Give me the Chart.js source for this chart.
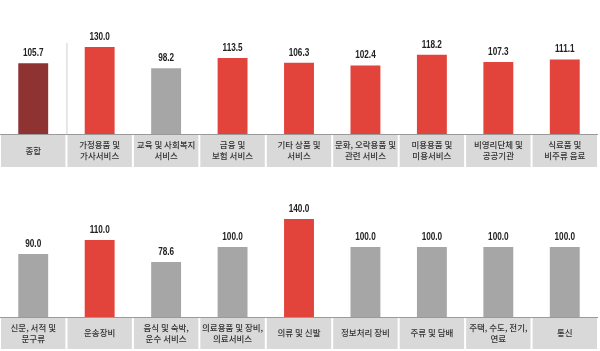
<!DOCTYPE html>
<html><head><meta charset="utf-8">
<script src="https://cdn.jsdelivr.net/npm/chart.js@4/dist/chart.umd.min.js"></script>
<style>
html,body{margin:0;padding:0;background:#fff;}
#w{width:600px;height:351px;position:relative;}
.c{position:absolute;left:0;width:600px;}
</style></head><body>
<div id="w">
<div class="c" style="top:0;height:175px"><canvas id="c1"></canvas></div>
<div class="c" style="top:175px;height:176px"><canvas id="c2"></canvas></div>
</div>
<script>
const topCategories = [['종합'],['가정용품 및','가사서비스'],['교육 및 사회복지','서비스'],['금융 및','보험 서비스'],['기타 상품 및','서비스'],['문화, 오락용품 및','관련 서비스'],['미용용품 및','미용서비스'],['비영리단체 및','공공기관'],['식료품 및','비주류 음료']];
const topValues = [105.7,130.0,98.2,113.5,106.3,102.4,118.2,107.3,111.1];
const bottomCategories = [['신문, 서적 및','문구류'],['운송장비'],['음식 및 숙박,','운수 서비스'],['의료용품 및 장비,','의료서비스'],['의류 및 신발'],['정보처리 장비'],['주류 및 담배'],['주택, 수도, 전기,','연료'],['통신']];
const bottomValues = [90.0,110.0,78.6,100.0,140.0,100.0,100.0,100.0,100.0];

const RED='#e2433a', DARK='#8e3232', GRAY='#a6a6a6';
const KFONT='"Noto Sans CJK KR","Noto Sans",sans-serif';

const deco = {
  id:'deco',
  beforeDatasetsDraw(chart, args, opts){
    const ctx=chart.ctx, xs=chart.scales.x, ca=chart.chartArea;
    const n=chart.data.labels.length;
    const w=(xs.right-xs.left)/n;
    ctx.save();
    ctx.fillStyle='#d9d9d9';
    for(let i=0;i<n;i++){
      const l=xs.left+i*w;
      ctx.fillRect(l+1, ca.bottom, w-2, opts.boxH);
    }
    ctx.fillStyle='#9a9a9a';
    ctx.fillRect(xs.left, ca.bottom, xs.right-xs.left, 1);
    if(opts.sep){
      ctx.fillStyle='#d0d0d0';
      ctx.fillRect(xs.left+w, ca.bottom-91, 1, 91);
    }
    ctx.fillStyle='#333';
    ctx.font='500 8.5px '+KFONT;
    ctx.textAlign='center';ctx.textBaseline='middle';
    const mid=ca.bottom+opts.boxH/2;
    chart.data.labels.forEach((lab,i)=>{
      const cx=xs.getPixelForValue(i);
      const lh=11;
      const y0=mid-(lab.length-1)*lh/2;
      lab.forEach((t,j)=>ctx.fillText(t,cx,y0+j*lh));
    });
    ctx.restore();
  },
  afterDatasetsDraw(chart){
    const ctx=chart.ctx, meta=chart.getDatasetMeta(0);
    const data=chart.data.datasets[0].data;
    ctx.save();
    ctx.fillStyle='#222';
    ctx.font='bold 10px "Liberation Sans",Arial,sans-serif';
    ctx.textAlign='center';ctx.textBaseline='middle';
    meta.data.forEach((bar,i)=>{
      ctx.save();
      ctx.translate(bar.x, bar.y-10);
      ctx.scale(0.82,1);
      ctx.fillText(data[i].toFixed(1),0,0);
      ctx.restore();
    });
    ctx.restore();
  }
};

function make(id, cats, vals, max, boxH, bottomPad, sep, firstDark){
  const colors=vals.map((v,i)=> (firstDark&&i===0)?DARK:(v>100?RED:GRAY));
  return new Chart(document.getElementById(id),{
    type:'bar',
    data:{labels:cats,datasets:[{data:vals,backgroundColor:colors,borderWidth:0,categoryPercentage:1,barPercentage:0.45}]},
    options:{
      responsive:true,maintainAspectRatio:false,animation:false,
      layout:{padding:{left:0,right:2,top:0,bottom:bottomPad}},
      plugins:{legend:{display:false},tooltip:{enabled:false},deco:{boxH:boxH,sep:sep}},
      scales:{
        x:{display:false},
        y:{display:false,min:0,max:max}
      }
    },
    plugins:[deco]
  });
}
make('c1', topCategories, topValues, 200, 33, 41, true, true);
make('c2', bottomCategories, bottomValues, 203, 32, 34, false, false);
</script>
</body></html>
